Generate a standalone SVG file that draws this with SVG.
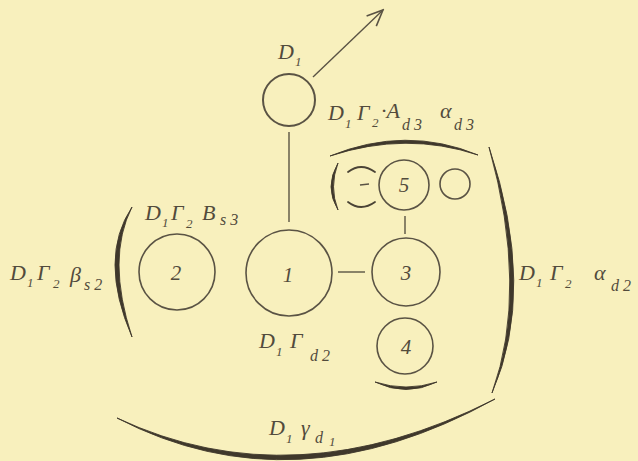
<svg xmlns="http://www.w3.org/2000/svg" width="638" height="461" viewBox="0 0 638 461">
<defs>
<style>
.bg{fill:#f8f0bd}
.node{fill:none;stroke:#5a5344;stroke-width:1.6}
.conn{fill:none;stroke:#5a5344;stroke-width:1.4}
.br{fill:#3f382b;stroke:#3f382b;stroke-width:0.9;stroke-linejoin:round}
.thin{fill:none;stroke:#4a4335;stroke-width:1.8;stroke-linecap:round}
text{font-family:"Liberation Serif","Times New Roman",serif;font-style:italic;fill:#524b3c}
.lb{font-size:22px}
.sb{font-size:13px}
.sd{font-size:16px}
.num{font-size:21px;text-anchor:middle}
</style>
<marker id="arr" viewBox="0 0 20 20" refX="18" refY="10" markerWidth="20" markerHeight="20" markerUnits="userSpaceOnUse" orient="auto">
<path d="M2,3 L18,10 L2,17" fill="none" stroke="#5a5344" stroke-width="1.6"/>
</marker>
</defs>
<rect class="bg" x="0" y="0" width="638" height="461"/>

<g id="connectors">
<line class="conn" x1="313" y1="77" x2="383" y2="10" marker-end="url(#arr)"/>
<line class="conn" x1="289" y1="132" x2="289" y2="222"/>
<line class="conn" x1="338" y1="272" x2="365" y2="272"/>
<line class="conn" x1="405" y1="216" x2="405" y2="234"/>
</g>

<g id="brackets">
<path class="br" d="M132,207 Q98,258 132,337 Q106,258 132,207 Z"/>
<path class="br" d="M489,147 Q537,290 492,393 Q529,290 489,147 Z"/>
<path class="br" d="M117,418 Q294,510 495,399 Q294,501 117,418 Z"/>
<path class="br" d="M330,156 Q406,125 478,155 Q406,131 330,156 Z"/>
<path class="br" d="M375,382 Q406,397 437,382 Q406,392 375,382 Z"/>
<path class="br" d="M338,163 Q324,187 338,210 Q329,187 338,163 Z"/>
<path class="thin" d="M348,172 Q361,162 375,172"/>
<path class="thin" d="M348,202 Q361,212 375,202"/>
<line class="conn" x1="360" y1="185" x2="369" y2="184"/>
</g>

<g id="node-top"><circle class="node" cx="289" cy="100" r="26" style="stroke-width:2"/></g>
<g id="node-1"><circle class="node" cx="289" cy="273" r="43"/><text class="num" x="288" y="282">1</text></g>
<g id="node-2"><circle class="node" cx="177" cy="272" r="38"/><text class="num" x="176" y="280">2</text></g>
<g id="node-3"><circle class="node" cx="406" cy="272" r="34"/><text class="num" x="406" y="280">3</text></g>
<g id="node-4"><circle class="node" cx="405" cy="346" r="28"/><text class="num" x="406" y="354">4</text></g>
<g id="node-5"><circle class="node" cx="404" cy="185" r="25"/><text class="num" x="404" y="192">5</text></g>
<g id="node-6"><circle class="node" cx="455" cy="184" r="15"/></g>

<g id="labels">
<text class="lb" x="278" y="59">D<tspan class="sb" x="295" y="66">1</tspan></text>
<text class="lb" x="328" y="120">D<tspan class="sb" x="345" y="128">1</tspan><tspan x="357" y="120">Γ</tspan><tspan class="sb" x="372" y="127">2</tspan><tspan x="381" y="118">·A</tspan><tspan class="sd" x="402" y="130">d 3</tspan><tspan x="440" y="118">α</tspan><tspan class="sd" x="454" y="130">d 3</tspan></text>
<text class="lb" x="145" y="220">D<tspan class="sb" x="162" y="227">1</tspan><tspan x="171" y="220">Γ</tspan><tspan class="sb" x="186" y="228">2</tspan><tspan x="202" y="220">B</tspan><tspan class="sd" x="220" y="225">s 3</tspan></text>
<text class="lb" x="10" y="280">D<tspan class="sb" x="27" y="287">1</tspan><tspan x="37" y="280">Γ</tspan><tspan class="sb" x="53" y="288">2</tspan><tspan x="70" y="282">β</tspan><tspan class="sd" x="84" y="290">s 2</tspan></text>
<text class="lb" x="259" y="348">D<tspan class="sb" x="276" y="356">1</tspan><tspan x="290" y="348">Γ</tspan><tspan class="sd" x="310" y="361">d 2</tspan></text>
<text class="lb" x="519" y="280">D<tspan class="sb" x="536" y="287">1</tspan><tspan x="550" y="280">Γ</tspan><tspan class="sb" x="565" y="288">2</tspan><tspan x="594" y="280">α</tspan><tspan class="sd" x="611" y="291">d 2</tspan></text>
<text class="lb" x="269" y="435">D<tspan class="sb" x="286" y="443">1</tspan><tspan x="301" y="435">γ</tspan><tspan class="sd" x="315" y="443">d</tspan><tspan class="sb" x="329" y="446">1</tspan></text>
</g>
</svg>
